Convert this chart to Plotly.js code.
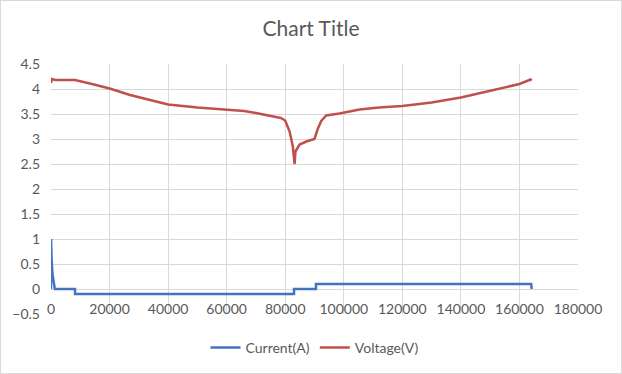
<!DOCTYPE html>
<html>
<head>
<meta charset="utf-8">
<script src="https://cdn.plot.ly/plotly-3.0.1.min.js"></script>
<style>
  html, body { margin: 0; padding: 0; background: #fff; }
  #chart { width: 620px; height: 372px; border: 1px solid #D9D9D9; }
</style>
</head>
<body>
<div id="chart"></div>
<script>
// Current(A) series
const currentX = [0, 0, 200, 500, 900, 1300, 8200, 8200, 83000, 83000, 90500, 90500, 164000, 164200];
const currentY = [0, 1.0, 0.6, 0.3, 0.08, 0, 0, -0.1, -0.1, 0, 0, 0.1, 0.1, 0];

// Voltage(V) series
const voltageX = [0, 300, 1500, 8200, 14000, 20000, 27000, 34000, 40000, 50000, 60000, 66000, 70000, 73000, 76000, 78500, 80000, 81500, 82600, 83200, 83500, 84900, 87200, 90000, 91100, 92300, 94000, 98500, 105400, 112000, 120000, 127000, 130000, 140000, 150000, 160000, 163800, 164200];
const voltageY = [4.12, 4.2, 4.18, 4.18, 4.1, 4.01, 3.88, 3.77, 3.69, 3.63, 3.59, 3.56, 3.52, 3.48, 3.45, 3.42, 3.37, 3.15, 2.85, 2.5, 2.75, 2.89, 2.95, 3.0, 3.2, 3.36, 3.47, 3.51, 3.59, 3.63, 3.66, 3.7, 3.73, 3.83, 3.97, 4.1, 4.19, 4.17];

const seriesNames = ["Current(A)", "Voltage(V)"];
const chartTitle = "Chart Title";

const txt = "#595959";
const grid = "#D9D9D9";
const fam = "Lato, 'Open Sans', sans-serif";

const traces = [
  { x: currentX, y: currentY, name: seriesNames[0], mode: "lines", type: "scatter",
    line: { color: "#4472C4", width: 2.5 } },
  { x: voltageX, y: voltageY, name: seriesNames[1], mode: "lines", type: "scatter",
    line: { color: "#C0504D", width: 2.5 } }
];

const layout = {
  width: 620, height: 372,
  margin: { l: 50, r: 43, t: 63, b: 59, autoexpand: false },
  paper_bgcolor: "#fff", plot_bgcolor: "#fff",
  font: { family: fam, color: txt, size: 14 },
  title: { text: chartTitle, font: { family: fam, size: 21, color: txt }, x: 0.5, xanchor: "center", y: 0.925, yanchor: "middle" },
  xaxis: {
    range: [0, 180000], dtick: 20000, tick0: 0, tickformat: "d",
    showgrid: true, gridcolor: grid, gridwidth: 1,
    zeroline: false, showline: true, linecolor: grid, linewidth: 1,
    anchor: "free", position: 0.1, layer: "below traces",
    ticks: "", ticklabelstandoff: 7, automargin: false,
    tickfont: { family: fam, size: 14, color: txt }
  },
  yaxis: {
    range: [-0.5, 4.5], dtick: 0.5, tick0: 0,
    showgrid: true, gridcolor: grid, gridwidth: 1,
    zeroline: false, showline: false, automargin: false,
    ticks: "", ticklabelstandoff: 10, layer: "below traces",
    tickfont: { family: fam, size: 14, color: txt }
  },
  showlegend: true,
  legend: {
    orientation: "h", x: 0.5, xanchor: "center", y: -0.136, yanchor: "middle",
    font: { family: fam, size: 14, color: txt }, itemgap: 26,
    bgcolor: "rgba(0,0,0,0)"
  }
};

Plotly.newPlot("chart", traces, layout, { staticPlot: true, displayModeBar: false });
</script>
</body>
</html>
